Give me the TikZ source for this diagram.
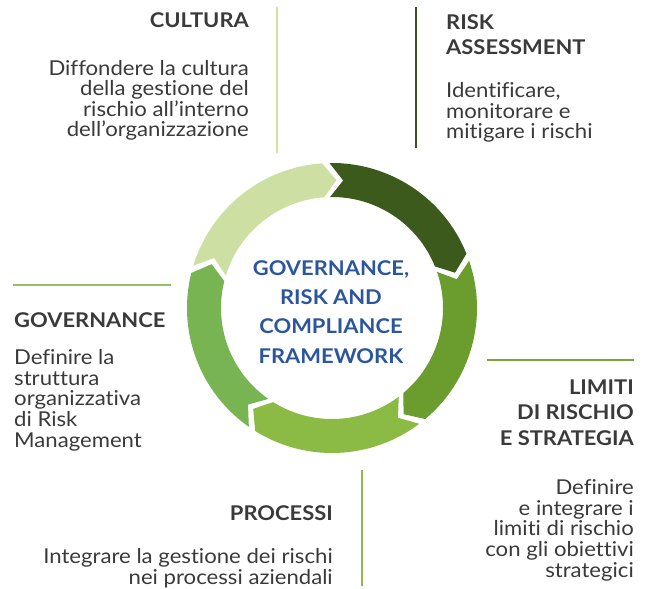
\documentclass[tikz,border=0pt]{standalone}
\usepackage{fontspec}
\setmainfont{Lato}[FakeStretch=1.08, Ligatures=NoCommon]
\definecolor{txt}{HTML}{3A3A3A}
\definecolor{blu}{HTML}{2B559F}
\definecolor{cLight}{HTML}{CDDFA2}
\definecolor{cDark}{HTML}{3D5A1D}
\definecolor{cRight}{HTML}{6A9C2E}
\definecolor{cBottom}{HTML}{8CBB45}
\definecolor{cLeft}{HTML}{78B452}
\definecolor{lCult}{HTML}{D3E2A0}
\definecolor{lRisk}{HTML}{3C4E24}
\definecolor{lGov}{HTML}{8DC266}
\definecolor{lLim}{HTML}{7AA53A}
\definecolor{lProc}{HTML}{8CB94D}
\newcommand\grcseg[3]{%
  \fill[#3] (#1+1:145) arc[start angle=#1+1, end angle=#2+4, radius=145]
    -- (#2-2:128) -- (#2+4:111)
    arc[start angle=#2+4, end angle=#1+1, radius=111]
    -- (#1-5:128) -- cycle;}
\begin{document}
\begin{tikzpicture}[x=1bp,y=-1bp,
  headt/.style={font=\bfseries\fontsize{20.3bp}{25.5bp}\selectfont, text=txt, inner sep=0pt},
  bodyt/.style={font=\fontsize{20.5bp}{20.6bp}\selectfont, text=txt, inner sep=0pt},
  centt/.style={font=\bfseries\fontsize{20.3bp}{29.3bp}\selectfont, text=blu, inner sep=0pt, align=center},
  rule/.style={line width=2.6bp}]
\useasboundingbox (0,0) rectangle (648,589);
% ring
\begin{scope}[shift={(332,308)}, x=1bp, y=1bp]
  \grcseg{162}{90}{cLight}
  \grcseg{90}{18}{cDark}
  \grcseg{18}{-54}{cRight}
  \grcseg{-54}{-126}{cBottom}
  \grcseg{-126}{-198}{cLeft}
\end{scope}
\node[centt, anchor=base] (ctr) at (331,363) {GOVERNANCE,\\RISK AND\\COMPLIANCE\\FRAMEWORK};
% rules
\coordinate (c1) at (277,7); \coordinate (c2) at (277,153);
\draw[rule, lCult] (c1) -- (c2);
\coordinate (r1) at (416,7); \coordinate (r2) at (416,148);
\draw[rule, lRisk] (r1) -- (r2);
\coordinate (g1) at (13,285); \coordinate (g2) at (171,285);
\draw[rule, lGov] (g1) -- (g2);
\coordinate (l1) at (487,360); \coordinate (l2) at (634,360);
\draw[rule, lLim] (l1) -- (l2);
\coordinate (p1) at (362,470); \coordinate (p2) at (362,586);
\draw[rule, lProc] (p1) -- (p2);
% texts
\node[headt, anchor=base east] (cultH) at (249,28) {CULTURA};
\node[bodyt, anchor=base east, align=right] (cultB) at (249,137) {Diffondere la cultura\\della gestione del\\rischio all’interno\\dell’organizzazione};
\node[headt, anchor=base west, align=left] (riskH) at (446,55) {RISK\\ASSESSMENT};
\node[bodyt, anchor=base west, align=left] (riskB) at (446,139) {Identificare,\\monitorare e\\mitigare i rischi};
\node[headt, anchor=base west] (govH) at (14,327) {GOVERNANCE};
\node[bodyt, anchor=base west, align=left] (govB) at (14,447) {Definire la\\struttura\\organizzativa\\di Risk\\Management};
\node[headt, anchor=base east, align=right] (limH) at (634,445) {LIMITI\\DI RISCHIO\\E STRATEGIA};
\node[bodyt, anchor=base east, align=right] (limB) at (634,577) {Definire\\e integrare i\\limiti di rischio\\con gli obiettivi\\strategici};
\node[headt, anchor=base east] (procH) at (333,520) {PROCESSI};
\node[bodyt, anchor=base east, align=right] (procB) at (333,584) {Integrare la gestione dei rischi\\nei processi aziendali};
\end{tikzpicture}
\end{document}
